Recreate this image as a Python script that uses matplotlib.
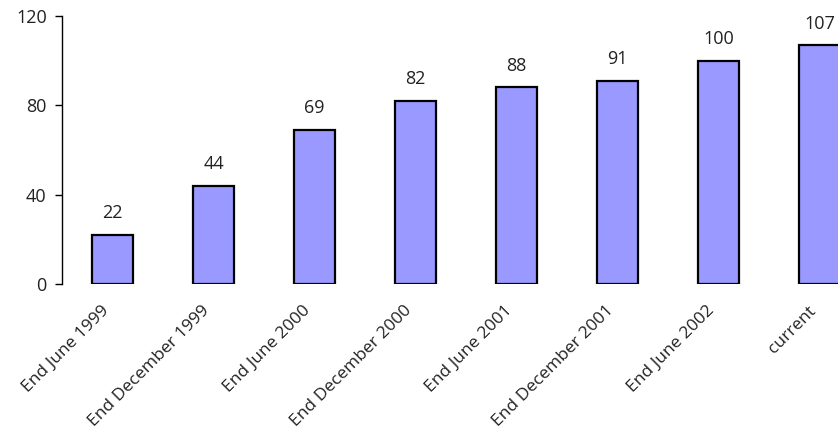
import matplotlib.pyplot as plt
from matplotlib.transforms import ScaledTranslation

categories = ["End June 1999", "End December 1999", "End June 2000", "End December 2000",
              "End June 2001", "End December 2001", "End June 2002", "current"]
values = [22, 44, 69, 82, 88, 91, 100, 107]

plt.rcParams['font.family'] = ['Open Sans', 'DejaVu Sans']

fig = plt.figure(figsize=(8.38, 4.32), dpi=100)
# axes runs past the right edge on purpose, the last bar is cut off in the original
ax = fig.add_axes([62 / 838, 148 / 432, 808 / 838, 268 / 432])

x = range(len(categories))
bars = ax.bar(x, values, width=0.4, color='#9999FF', edgecolor='black', linewidth=1.6)

for b, v in zip(bars, values):
    ax.annotate(str(v), (b.get_x() + b.get_width() / 2, v), xytext=(0, 9),
                textcoords='offset points', ha='center', va='bottom',
                fontsize=13, color='#222222')

ax.set_xlim(-0.5, 7.5)
ax.set_ylim(0, 120)
ax.set_yticks([0, 40, 80, 120])
ax.set_xticks(list(x))
ax.set_xticklabels(categories, rotation=45, ha='right', rotation_mode='anchor',
                   fontsize=12.5, color='#222222')
ax.tick_params(axis='x', length=0, pad=13.5)
ax.tick_params(axis='y', length=5, width=1, labelsize=13, labelcolor='#222222', pad=6)

shift = ScaledTranslation(-12 / 100, 0, fig.dpi_scale_trans)
for lbl in ax.get_xticklabels():
    lbl.set_transform(lbl.get_transform() + shift)

for s in ['top', 'right', 'bottom']:
    ax.spines[s].set_visible(False)
ax.spines['left'].set_linewidth(1)

fig.savefig('out.png', dpi=100)
